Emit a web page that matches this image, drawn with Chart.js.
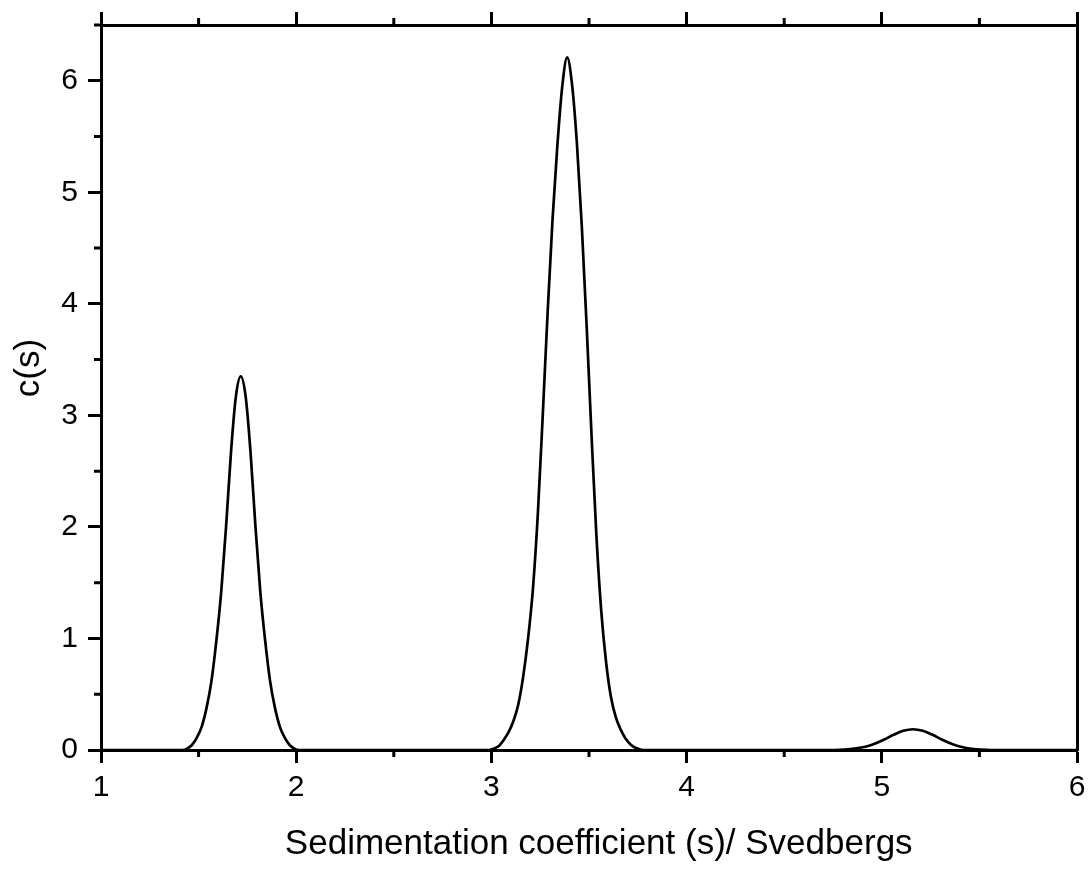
<!DOCTYPE html>
<html>
<head>
<meta charset="utf-8">
<script src="https://cdn.jsdelivr.net/npm/chart.js@4"></script>
<style>
  body { margin: 0; background: #fff; }
  #wrap { width: 1088px; height: 878px; }
</style>
</head>
<body>
<div id="wrap"><canvas id="myChart"></canvas></div>
<script>
// Sedimentation coefficient (S) and c(s)
const sCoef = [
  1.0,
  1.416, 1.441, 1.466, 1.491, 1.516, 1.541, 1.566, 1.591, 1.616, 1.641, 1.666, 1.691,
  1.716,
  1.741, 1.766, 1.791, 1.816, 1.841, 1.866, 1.891, 1.916, 1.941, 1.966, 1.991, 2.016,
  2.988, 3.013, 3.038, 3.063, 3.088, 3.113, 3.138, 3.163, 3.188, 3.213, 3.238, 3.263, 3.288, 3.313, 3.338, 3.363,
  3.388,
  3.413, 3.438, 3.463, 3.488, 3.513, 3.538, 3.563, 3.588, 3.613, 3.638, 3.663, 3.688, 3.713, 3.738, 3.763, 3.788,
  4.76, 4.81, 4.86, 4.91, 4.96, 5.01, 5.06, 5.11,
  5.16,
  5.21, 5.26, 5.31, 5.36, 5.41, 5.46, 5.51, 5.56,
  6.0
];
const cValues = [
  0,
  0, 0.012, 0.045, 0.11, 0.21, 0.38, 0.62, 0.98, 1.42, 2.01, 2.67, 3.17,
  3.35,
  3.17, 2.67, 2.01, 1.42, 0.98, 0.62, 0.38, 0.21, 0.11, 0.045, 0.012, 0,
  0, 0.012, 0.035, 0.09, 0.16, 0.26, 0.41, 0.66, 1.0, 1.45, 2.12, 3.0, 3.92, 4.75, 5.42, 5.95,
  6.21,
  5.97, 5.44, 4.70, 3.80, 2.82, 1.92, 1.24, 0.78, 0.47, 0.29, 0.18, 0.10, 0.05, 0.02, 0.005, 0,
  0, 0.004, 0.012, 0.027, 0.054, 0.092, 0.136, 0.172,
  0.186,
  0.172, 0.136, 0.092, 0.054, 0.027, 0.011, 0.003, 0,
  0
];

// axis ranges and tick steps
const xRange = [1, 6];
const yRange = [0, 6.5];
const majorStep = 1;
const minorStep = 0.5;

const points = sCoef.map((s, i) => ({ x: s, y: cValues[i] }));

const black = "#000";
const axisWidth = 3;
const fontFamily = "Arial, 'Liberation Sans', sans-serif";
const tickFont = { family: fontFamily, size: 30 };

// fixed axis sizes so the plot box sits where it does in the original
const fixSize = (size) => (scale) => {
  if (scale.isHorizontal()) {
    scale.height = size;
    scale.paddingLeft = 0;
    scale.paddingRight = 0;
  } else {
    scale.width = size;
    scale.paddingTop = 0;
    scale.paddingBottom = 0;
  }
};

// short minor ticks (Chart.js only has one tick length per axis)
const minorTicks = {
  id: "minorTicks",
  afterDraw(chart) {
    const ctx = chart.ctx;
    const area = chart.chartArea;
    ctx.save();
    ctx.strokeStyle = black;
    ctx.lineWidth = axisWidth;
    ctx.beginPath();
    for (let v = xRange[0] + minorStep; v < xRange[1]; v += majorStep) {
      const px = chart.scales.x.getPixelForValue(v);
      ctx.moveTo(px, area.bottom);
      ctx.lineTo(px, area.bottom + 7);
      ctx.moveTo(px, area.top);
      ctx.lineTo(px, area.top - 7);
    }
    for (let v = yRange[0] + minorStep; v <= yRange[1]; v += majorStep) {
      const py = chart.scales.y.getPixelForValue(v);
      ctx.moveTo(area.left, py);
      ctx.lineTo(area.left - 7, py);
    }
    ctx.stroke();
    ctx.restore();
  },
};

const config = {
  type: "line",
  data: {
    datasets: [
      {
        data: points,
        borderColor: black,
        borderWidth: 2.7,
        pointRadius: 0,
        fill: false,
        cubicInterpolationMode: "monotone",
      },
    ],
  },
  options: {
    responsive: true,
    maintainAspectRatio: false,
    animation: false,
    layout: { padding: { right: 11 } },
    plugins: { legend: { display: false }, tooltip: { enabled: false } },
    scales: {
      x: {
        type: "linear",
        position: "bottom",
        min: xRange[0],
        max: xRange[1],
        afterFit: fixSize(128),
        ticks: { stepSize: majorStep, color: black, padding: 7, font: tickFont },
        grid: { drawOnChartArea: false, tickLength: 13, tickWidth: axisWidth, tickColor: black },
        border: { color: black, width: axisWidth },
        title: {
          display: true,
          // two leading spaces nudge the title right, like the original
          text: "  Sedimentation coefficient (s)/ Svedbergs",
          color: black,
          font: { family: fontFamily, size: 35 },
          padding: { top: 0, bottom: 13 },
        },
      },
      x2: {
        type: "linear",
        position: "top",
        min: xRange[0],
        max: xRange[1],
        afterFit: fixSize(25),
        ticks: { stepSize: majorStep, display: false },
        grid: { drawOnChartArea: false, tickLength: 13, tickWidth: axisWidth, tickColor: black },
        border: { color: black, width: axisWidth },
      },
      y: {
        type: "linear",
        position: "left",
        min: yRange[0],
        max: yRange[1],
        afterFit: fixSize(101),
        ticks: { stepSize: majorStep, includeBounds: false, color: black, padding: 10, font: tickFont },
        grid: { drawOnChartArea: false, tickLength: 13, tickWidth: axisWidth, tickColor: black },
        border: { color: black, width: axisWidth },
        title: {
          display: true,
          // leading spaces lift the label a little above the axis centre, as in the original
          text: "    c(s)",
          color: black,
          font: { family: fontFamily, size: 35 },
          padding: { top: 8, bottom: 0 },
        },
      },
      y2: {
        type: "linear",
        position: "right",
        min: yRange[0],
        max: yRange[1],
        afterFit: fixSize(0),
        ticks: { display: false },
        grid: { display: false, drawTicks: false },
        border: { color: black, width: axisWidth },
      },
    },
  },
  plugins: [minorTicks],
};

const ctx = document.getElementById("myChart").getContext("2d");
const myChart = new Chart(ctx, config);
</script>
</body>
</html>
